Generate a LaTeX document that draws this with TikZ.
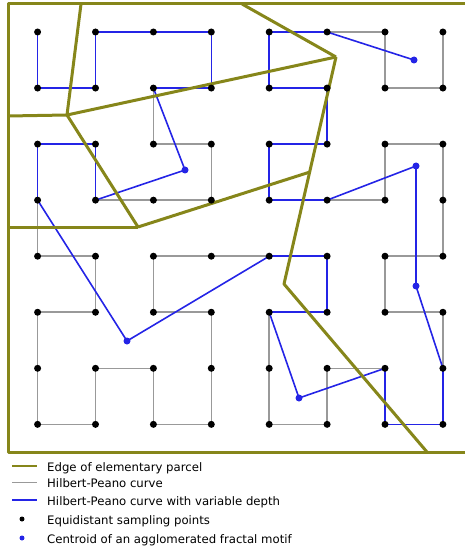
\documentclass[tikz,border=0pt]{standalone}
\usepackage{fontspec}
\setmainfont{DejaVu Sans}
\usetikzlibrary{backgrounds}
\definecolor{parcelOlive}{HTML}{86861A}
\definecolor{curveGrey}{HTML}{999999}
\definecolor{depthBlue}{HTML}{2424E6}
\tikzset{
  sample/.style   = {circle, fill=black, inner sep=0pt, minimum size=7pt},
  centroid/.style = {circle, fill=depthBlue, inner sep=0pt, minimum size=7pt},
  keydot/.style   = {circle, inner sep=0pt, minimum size=5pt},
  hp/.style       = {draw=curveGrey, line width=1.6pt, line cap=round},
  hpv/.style      = {draw=depthBlue, line width=1.6pt, line cap=round},
  parcel/.style   = {draw=parcelOlive, line width=3pt, line join=round},
  legtext/.style  = {anchor=base west, inner sep=0pt, font=\fontsize{11.7}{14}\selectfont}
}

\begin{document}
\begin{tikzpicture}[x=1pt, y=-1pt]
  \useasboundingbox (0,0) rectangle (464,553);

  % --- equidistant sampling points (8 x 8)
  \foreach \i in {0,...,7} {
    \foreach \j in {0,...,7} {
      \node[sample] (p-\i-\j) at ({37.6+57.9*\i}, {32+56.05*\j}) {};
    }
  }

  % --- centroids of agglomerated motifs
  \node[centroid] (c1) at (185,170) {};
  \node[centroid] (c2) at (127,341) {};
  \node[centroid] (c3) at (299,398) {};
  \node[centroid] (c4) at (416,286) {};
  \node[centroid] (c5) at (416,166) {};
  \node[centroid] (c6) at (414,60) {};

  % --- parcel vertices
  \coordinate (f-nw) at (8,4);
  \coordinate (f-se) at (468,452);
  \coordinate (t1) at (81,4);
  \coordinate (t2) at (242,4);
  \coordinate (l1) at (8,116);
  \coordinate (l2) at (8,227);
  \coordinate (v1) at (67,115);
  \coordinate (v2) at (336,57);
  \coordinate (v3) at (284,284);
  \coordinate (v4) at (427,452);
  \coordinate (v5) at (138,227);
  \coordinate (v6) at (310,172);

  \begin{scope}[on background layer]
    % Hilbert-Peano curve
    \foreach \pt [remember=\pt as \prev (initially 0-0)] in
      {0-1,1-1,1-0,2-0,3-0,3-1,2-1,2-2,3-2,3-3,2-3,1-3,1-2,0-2,0-3,
       0-4,1-4,1-5,0-5,0-6,0-7,1-7,1-6,2-6,2-7,3-7,3-6,3-5,2-5,2-4,3-4,
       4-4,5-4,5-5,4-5,4-6,4-7,5-7,5-6,6-6,6-7,7-7,7-6,7-5,6-5,6-4,7-4,
       7-3,7-2,6-2,6-3,5-3,4-3,4-2,5-2,5-1,4-1,4-0,5-0,6-0,6-1,7-1,7-0}
      \draw[hp] (p-\prev.center) -- (p-\pt.center);

    % Hilbert-Peano curve with variable depth
    \foreach \pt [remember=\pt as \prev (initially p-0-0)] in
      {p-0-1,p-1-1,p-1-0,p-2-0,p-3-0,p-3-1,p-2-1,c1,p-1-3,p-1-2,p-0-2,p-0-3,
       c2,p-4-4,p-5-4,p-5-5,p-4-5,c3,p-6-6,p-6-7,p-7-7,p-7-6,c4,c5,
       p-5-3,p-4-3,p-4-2,p-5-2,p-5-1,p-4-1,p-4-0,p-5-0,c6}
      \draw[hpv] (\prev.center) -- (\pt.center);

    % edges of elementary parcels
    \draw[parcel] (f-nw) rectangle (f-se);
    \draw[parcel] (t1) -- (v1);
    \draw[parcel] (l1) -- (v1);
    \draw[parcel] (v1) -- (v2);
    \draw[parcel] (t2) -- (v2);
    \draw[parcel] (v2) -- (v3) -- (v4);
    \draw[parcel] (v1) -- (v5);
    \draw[parcel] (l2) -- (v5);
    \draw[parcel] (v5) -- (v6);
  \end{scope}

  % --- legend
  \coordinate (k1a) at (12,466);   \coordinate (k1b) at (37,466);
  \coordinate (k2a) at (12,482);   \coordinate (k2b) at (37,482);
  \coordinate (k3a) at (12,500);   \coordinate (k3b) at (37,500);
  \draw[parcel, line width=2.4pt] (k1a) -- (k1b);
  \draw[hp, line width=1pt, line cap=butt] (k2a) -- (k2b);
  \draw[hpv, line width=1.4pt, line cap=butt] (k3a) -- (k3b);
  \node[keydot, fill=black] (k4) at (22,519) {};
  \node[keydot, fill=depthBlue] (k5) at (22,538) {};

  \node[legtext] (t-parcel) at (47,471) {Edge of elementary parcel};
  \node[legtext] (t-hp) at (47,487) {Hilbert-Peano curve};
  \node[legtext] (t-hpv) at (47,505) {Hilbert-Peano curve with variable depth};
  \node[legtext] (t-sample) at (47,524) {Equidistant sampling points};
  \node[legtext] (t-centroid) at (47,543) {Centroid of an agglomerated fractal motif};
\end{tikzpicture}
\end{document}
